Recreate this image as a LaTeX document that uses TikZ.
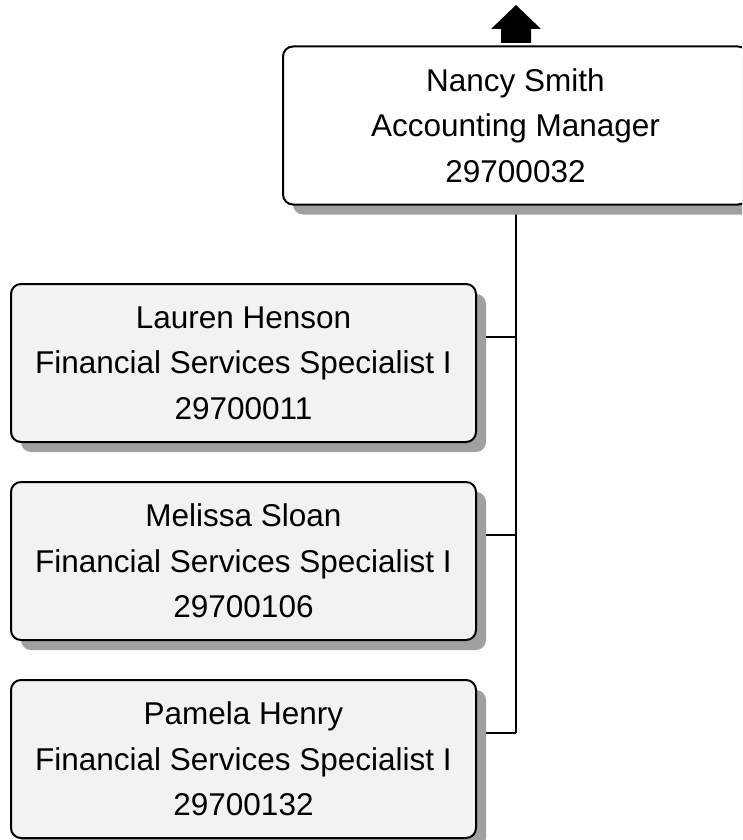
\documentclass[tikz,border=0pt]{standalone}
\usepackage{fontspec}
\setmainfont{Liberation Sans}
\usetikzlibrary{shadows}
\definecolor{shadowgray}{RGB}{160,160,160}
\definecolor{childfill}{RGB}{242,242,242}
\tikzset{
  person/.style={draw=black, line width=2pt, rounded corners=10pt,
    minimum width=465pt, minimum height=158pt, inner sep=0pt,
    align=center, font=\fontsize{31.5}{45.5}\selectfont,
    drop shadow={shadow xshift=10pt, shadow yshift=-10pt, fill=shadowgray, opacity=1}},
  boss/.style={person, fill=white},
  child/.style={person, fill=childfill},
  link/.style={draw=black, line width=2pt},
  uparrow/.style={fill=black, draw=none}
}
\begin{document}
\begin{tikzpicture}[x=1pt,y=-1pt]
\clip (0,0) rectangle (742,840);
\fill[white] (0,0) rectangle (742,840);
% coordinates for connector junctions
\coordinate (top) at (516,204);
\coordinate (j1) at (516,337);
\coordinate (j2) at (516,535);
\coordinate (j3) at (516,733);
\coordinate (c1) at (476,337);
\coordinate (c2) at (476,535);
\coordinate (c3) at (476,733);
\draw[link] (top) -- (j3);
\draw[link] (j1) -- (c1);
\draw[link] (j2) -- (c2);
\draw[link] (j3) -- (c3);
% nodes
\node[boss] (nancy) at (515.5,125.5) {Nancy Smith\\Accounting Manager\\29700032};
\node[child] (lauren) at (243.5,363) {Lauren Henson\\Financial Services Specialist I\\29700011};
\node[child] (melissa) at (243.5,561) {Melissa Sloan\\Financial Services Specialist I\\29700106};
\node[child] (pamela) at (243.5,759) {Pamela Henry\\Financial Services Specialist I\\29700132};
% up arrow
\fill[uparrow] (516,5) -- (541,29) -- (531,29) -- (531,43) -- (501,43) -- (501,29) -- (491,29) -- cycle;
\end{tikzpicture}
\end{document}
